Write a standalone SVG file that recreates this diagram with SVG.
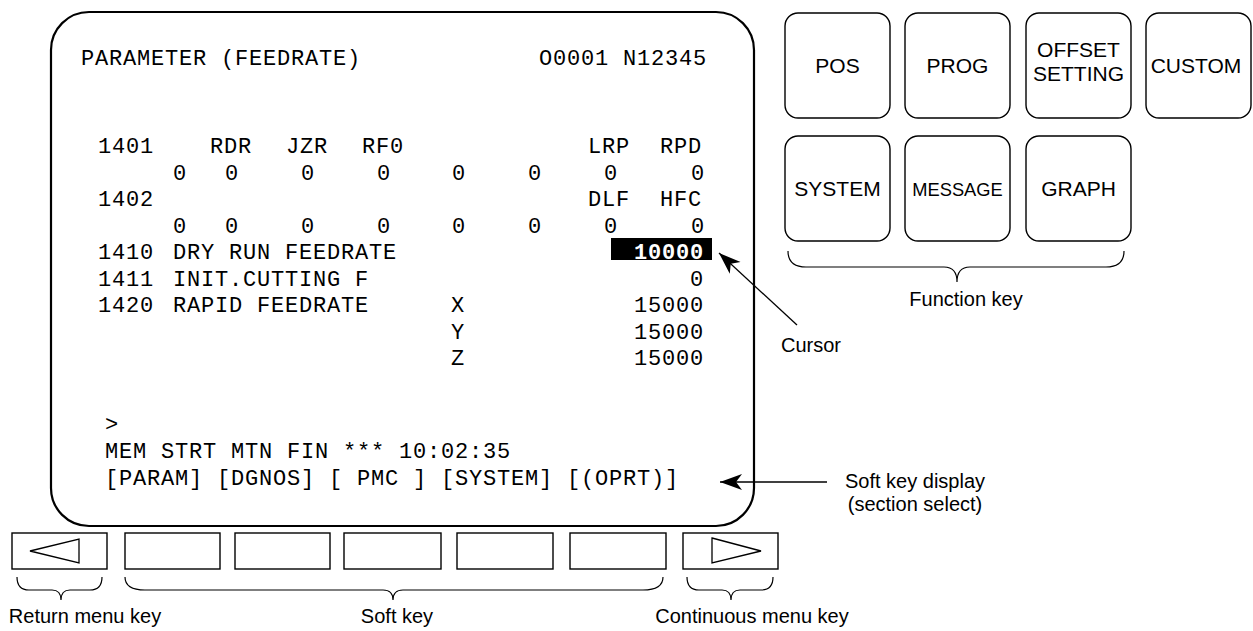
<svg xmlns="http://www.w3.org/2000/svg" width="1253" height="631" viewBox="0 0 1253 631">
<style>
.scr{font-family:"Liberation Mono","Courier New",monospace;font-size:22px;letter-spacing:0.8px;fill:#000}
.lbl{font-family:"Liberation Sans",Arial,sans-serif;font-size:20px;fill:#000}
.key{font-family:"Liberation Sans",Arial,sans-serif;font-size:21px;fill:#000;text-anchor:middle}
.fk{fill:#fff;stroke:#000;stroke-width:1.4}
.sk{fill:#fff;stroke:#000;stroke-width:1.4}
.br{fill:none;stroke:#000;stroke-width:1.2}
.ln{fill:none;stroke:#000;stroke-width:1.3}
.m{text-anchor:middle}
.e{text-anchor:end}
</style>
<defs>
<marker id="ah" markerUnits="userSpaceOnUse" markerWidth="24" markerHeight="18" refX="22" refY="9" orient="auto" viewBox="0 0 24 18">
<path d="M0,1 L22,9 L0,17 L6,9 z" fill="#000"/>
</marker>
</defs>
<rect width="1253" height="631" fill="#fff"/>

<g id="screen">
<rect x="51" y="12" width="703" height="514" rx="38" ry="38" fill="#fff" stroke="#000" stroke-width="2.2"/>
<text class="scr" x="81" y="65">PARAMETER (FEEDRATE)</text>
<text class="scr" x="539" y="65">O0001 N12345</text>
<text class="scr" x="98" y="153">1401</text>
<text class="scr" x="210" y="153">RDR</text>
<text class="scr" x="286" y="153">JZR</text>
<text class="scr" x="362" y="153">RF0</text>
<text class="scr" x="588" y="153">LRP</text>
<text class="scr" x="660" y="153">RPD</text>
<g class="scr m">
<text x="180" y="180">0</text><text x="232" y="180">0</text><text x="308" y="180">0</text><text x="384" y="180">0</text><text x="459" y="180">0</text><text x="535" y="180">0</text><text x="611" y="180">0</text><text x="698" y="180">0</text>
</g>
<text class="scr" x="98" y="206">1402</text>
<text class="scr" x="588" y="206">DLF</text>
<text class="scr" x="660" y="206">HFC</text>
<g class="scr m">
<text x="180" y="233">0</text><text x="232" y="233">0</text><text x="308" y="233">0</text><text x="384" y="233">0</text><text x="459" y="233">0</text><text x="535" y="233">0</text><text x="611" y="233">0</text><text x="698" y="233">0</text>
</g>
<text class="scr" x="98" y="259">1410</text>
<text class="scr" x="173" y="259">DRY RUN FEEDRATE</text>
<rect x="611" y="238" width="101" height="22" fill="#000"/>
<text class="scr e" x="704" y="259" style="fill:#fff;font-weight:bold">10000</text>
<text class="scr" x="98" y="286">1411</text>
<text class="scr" x="173" y="286">INIT.CUTTING F</text>
<text class="scr e" x="704" y="286">0</text>
<text class="scr" x="98" y="312">1420</text>
<text class="scr" x="173" y="312">RAPID FEEDRATE</text>
<text class="scr m" x="458" y="312">X</text>
<text class="scr e" x="704" y="312">15000</text>
<text class="scr m" x="458" y="339">Y</text>
<text class="scr e" x="704" y="339">15000</text>
<text class="scr m" x="458" y="365">Z</text>
<text class="scr e" x="704" y="365">15000</text>
<text class="scr" x="105" y="431">&gt;</text>
<text class="scr" x="105" y="458">MEM STRT MTN FIN *** 10:02:35</text>
<text class="scr" x="105" y="485">[PARAM] [DGNOS] [ PMC ] [SYSTEM] [(OPRT)]</text>
</g>

<g id="function-keys">
<g id="key-pos"><rect class="fk" x="785" y="13" width="105" height="105" rx="13"/><text class="key" x="837.5" y="73">POS</text></g>
<g id="key-prog"><rect class="fk" x="905" y="13" width="105" height="105" rx="13"/><text class="key" x="957.5" y="73">PROG</text></g>
<g id="key-offset"><rect class="fk" x="1026" y="13" width="105" height="105" rx="13"/><text class="key" x="1078.5" y="57">OFFSET</text><text class="key" x="1078.5" y="81">SETTING</text></g>
<g id="key-custom"><rect class="fk" x="1146" y="13" width="105" height="105" rx="13"/><text class="key" x="1196" y="73">CUSTOM</text></g>
<g id="key-system"><rect class="fk" x="785" y="136" width="105" height="105" rx="13"/><text class="key" x="837.5" y="196">SYSTEM</text></g>
<g id="key-message"><rect class="fk" x="905" y="136" width="105" height="105" rx="13"/><text class="key" x="957.5" y="196" style="font-size:18.3px">MESSAGE</text></g>
<g id="key-graph"><rect class="fk" x="1026" y="136" width="105" height="105" rx="13"/><text class="key" x="1078.5" y="196">GRAPH</text></g>
</g>

<g id="soft-keys">
<g id="key-return"><rect class="sk" x="12" y="533" width="95" height="36"/><polygon points="30,551 79,539 79,563" fill="none" stroke="#000" stroke-width="1.3"/></g>
<g id="soft-1"><rect class="sk" x="125" y="533" width="95" height="36"/></g>
<g id="soft-2"><rect class="sk" x="235" y="533" width="95" height="36"/></g>
<g id="soft-3"><rect class="sk" x="344" y="533" width="97" height="36"/></g>
<g id="soft-4"><rect class="sk" x="457" y="533" width="96" height="36"/></g>
<g id="soft-5"><rect class="sk" x="570" y="533" width="96" height="36"/></g>
<g id="key-continue"><rect class="sk" x="683" y="533" width="95" height="36"/><polygon points="712,538 761,551 712,563" fill="none" stroke="#000" stroke-width="1.3"/></g>
</g>

<g id="connectors">
<path class="ln" d="M797,325 L719,253" marker-end="url(#ah)"/>
<path class="ln" d="M827,482 L720,482" marker-end="url(#ah)"/>
<path class="br" d="M788,251 Q788,267 806,267 L944,267 Q957,267 957,282 Q957,267 970,267 L1106,267 Q1124,267 1124,251"/>
<path class="br" d="M17,577 Q17,590 29,590 L52,590 Q61,590 61,600 Q61,590 70,590 L90,590 Q102,590 102,577"/>
<path class="br" d="M125,577 Q125,590 145,590 L383,590 Q393,590 393,600 Q393,590 403,590 L643,590 Q663,590 663,577"/>
<path class="br" d="M687,577 Q687,590 699,590 L722,590 Q731,590 731,600 Q731,590 740,590 L761,590 Q773,590 773,577"/>
</g>

<g id="labels">
<text class="lbl" x="966" y="306" text-anchor="middle">Function key</text>
<text class="lbl" x="781" y="352">Cursor</text>
<text class="lbl" x="915" y="488" text-anchor="middle">Soft key display</text>
<text class="lbl" x="915" y="511" text-anchor="middle">(section select)</text>
<text class="lbl" x="85" y="623" text-anchor="middle">Return menu key</text>
<text class="lbl" x="397" y="623" text-anchor="middle">Soft key</text>
<text class="lbl" x="752" y="623" text-anchor="middle">Continuous menu key</text>
</g>
</svg>
